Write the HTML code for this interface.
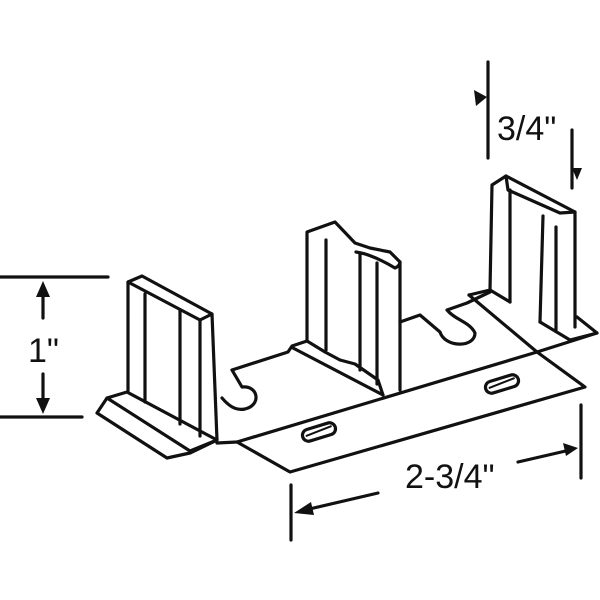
<!DOCTYPE html>
<html><head><style>html,body{margin:0;padding:0;background:#fff}svg{display:block}</style></head>
<body>
<svg width="600" height="600" viewBox="0 0 600 600" xmlns="http://www.w3.org/2000/svg">
<g fill="none" stroke="#111" stroke-width="3.2" stroke-linejoin="round" stroke-linecap="round">
<!-- plate front -->
<polygon points="237,442 537,352 585,387 290,472" fill="#fff"/>
<!-- back platform -->
<polyline points="217,443 237,442"/>
<polyline points="232,370 288,352 292,346 307,341"/>
<path d="M232,370 L242,387 C258,385 262,405 245,409 C235,411 228,405 222,398"/>
<path d="M400,322 L420,315 L440,332 C445,348 475,348 475,333 C470,322 455,320 447,310 L467,303 L490,292"/>
<!-- left post -->
<polygon points="97,413 107,398 127,392 217,440 190,453 167,458" fill="#fff"/>
<polyline points="107,398 190,451 217,440"/>
<polyline points="128,392 128,282 142,276 212,314 217,440"/>
<polyline points="128,282 200,320 212,314"/>
<polyline points="200,320 200,436"/>
<line x1="145" y1="294" x2="145" y2="402"/>
<line x1="180" y1="310" x2="180" y2="424"/>
<!-- middle post -->
<polyline points="293,348 383,395"/>
<polyline points="307,341 325,352 340,360 355,364 378,380 383,395"/>
<polyline points="307,341 307,232 335,222 355,243 370,248 390,252 400,262 400,390"/>
<path d="M356,252 C370,254 385,262 395,268 C400,266 400,262 400,262"/>
<line x1="326" y1="240" x2="326" y2="350"/>
<line x1="360" y1="253" x2="360" y2="370"/>
<line x1="377" y1="263" x2="377" y2="384"/>
<!-- right post -->
<polyline points="469,295 490,290 510,302"/>
<polyline points="469,295 537,352 597,333 577,317"/>
<polyline points="540,322 570,340 597,333"/>
<polyline points="490,290 492,185 506,176 575,212 575,327"/>
<polyline points="506,176 508,190 560,213 575,212"/>
<line x1="510" y1="190" x2="510" y2="302"/>
<polyline points="543,216 540,322"/>
<line x1="556" y1="227" x2="556" y2="330"/>
<!-- slots -->
<g transform="rotate(-17 319 432)"><rect x="302" y="426" width="34" height="12" rx="6"/><line x1="306" y1="432" x2="332" y2="430" stroke-width="2"/></g>
<g transform="rotate(-17 502 384)"><rect x="485" y="378" width="34" height="12" rx="6"/><line x1="489" y1="384" x2="515" y2="382" stroke-width="2"/></g>
<!-- dimensions -->
<line x1="0" y1="277" x2="108" y2="277"/>
<line x1="0" y1="417" x2="82" y2="417"/>
<line x1="43" y1="292" x2="43" y2="318"/>
<line x1="43" y1="374" x2="43" y2="404"/>
<line x1="488" y1="62" x2="488" y2="158"/>
<line x1="572" y1="130" x2="572" y2="188"/>
<line x1="291" y1="485" x2="291" y2="540"/>
<line x1="581" y1="405" x2="581" y2="478"/>
<line x1="378" y1="493" x2="305" y2="510"/>
<line x1="518" y1="462" x2="570" y2="450"/>
</g>
<g fill="#111">
<polygon points="43,281 36,297 50,297"/>
<polygon points="43,414 36,398 50,398"/>
<polygon points="474,90 487,97 476,106"/>
<polygon points="572,168 582,168 577,180"/>
<polygon points="294,513 311,502 314,515"/>
<polygon points="578,448 563,443 566,456"/>
</g>
<g font-family="Liberation Sans, sans-serif" font-size="34" fill="#111">
<text x="28" y="362">1"</text>
<text x="497" y="140">3/4"</text>
<text x="405" y="488">2-3/4"</text>
</g>
</svg>
</body></html>
